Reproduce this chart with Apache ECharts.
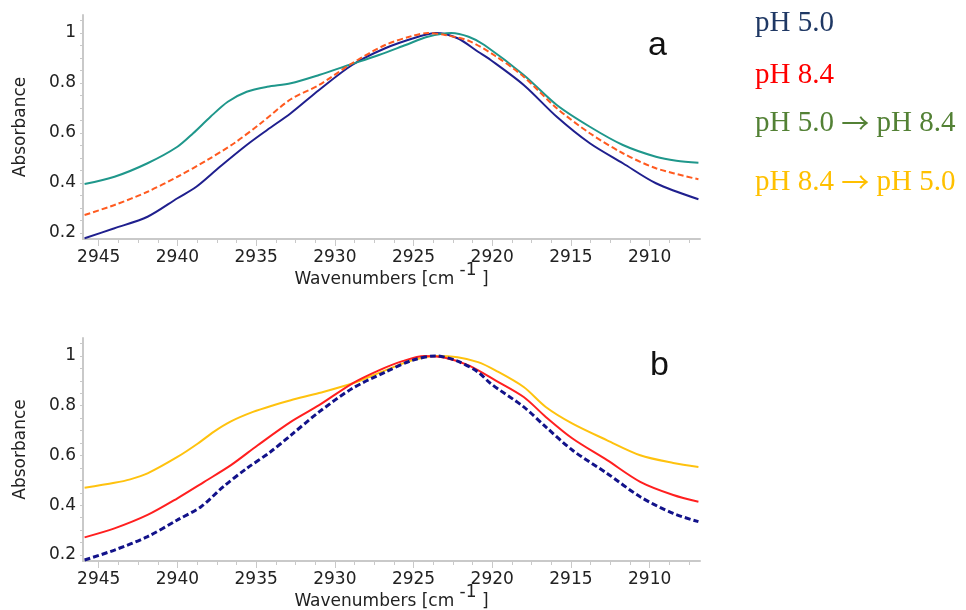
<!DOCTYPE html>
<html>
<head>
<meta charset="utf-8">
<script src="https://cdn.jsdelivr.net/npm/echarts@6/dist/echarts.min.js"></script>
<style>
html,body{margin:0;padding:0;background:#fff;}
#chart{width:966px;height:610px;}
</style>
</head>
<body>
<div id="chart"></div>
<script>
// ---- data (wavenumber [cm-1], normalized absorbance) ----
const xTickLabels = [2945, 2940, 2935, 2930, 2925, 2920, 2915, 2910];
const yTickLabels = [0.2, 0.4, 0.6, 0.8, 1];

// panel a
const aPH50 = [[2945.9,0.179],[2944.0,0.219],[2941.9,0.265],[2940.0,0.339],[2938.8,0.385],[2937.3,0.465],[2935.6,0.552],[2934.3,0.612],[2932.8,0.679],[2931.0,0.772],[2928.9,0.872],[2926.8,0.939],[2924.7,0.985],[2923.6,1.0],[2922.2,0.979],[2920.9,0.925],[2920.1,0.892],[2918.0,0.792],[2915.9,0.665],[2913.8,0.559],[2911.7,0.479],[2909.6,0.399],[2906.9,0.335]];
const aPH84 = [[2945.9,0.272],[2944.0,0.312],[2941.9,0.365],[2940.0,0.425],[2938.1,0.492],[2936.4,0.559],[2934.7,0.639],[2932.8,0.735],[2931.0,0.792],[2928.9,0.879],[2926.8,0.952],[2925.1,0.988],[2924.1,1.0],[2923.0,0.992],[2921.5,0.969],[2919.8,0.908],[2918.0,0.825],[2915.9,0.699],[2913.8,0.599],[2911.7,0.519],[2909.6,0.459],[2906.9,0.415]];
const aPH50to84 = [[2945.9,0.396],[2944.0,0.425],[2941.9,0.479],[2940.0,0.545],[2939.0,0.599],[2937.9,0.665],[2936.8,0.725],[2935.6,0.765],[2934.3,0.785],[2932.8,0.799],[2931.0,0.832],[2929.1,0.872],[2927.2,0.912],[2925.5,0.952],[2924.1,0.985],[2922.6,1.0],[2921.5,0.985],[2920.5,0.952],[2918.0,0.832],[2915.9,0.712],[2913.8,0.625],[2911.7,0.552],[2909.6,0.505],[2908.3,0.489],[2906.9,0.481]];

// panel b
const bPH50 = [[2945.9,0.180],[2944.0,0.220],[2941.9,0.274],[2940.0,0.341],[2938.5,0.394],[2937.1,0.474],[2935.6,0.548],[2934.1,0.614],[2932.8,0.681],[2931.0,0.775],[2928.9,0.869],[2926.8,0.935],[2925.1,0.982],[2923.6,1.0],[2922.2,0.979],[2920.9,0.935],[2920.1,0.889],[2918.0,0.795],[2916.6,0.715],[2914.9,0.621],[2912.7,0.528],[2910.6,0.434],[2908.5,0.367],[2906.9,0.334]];
const bPH84 = [[2945.9,0.271],[2944.0,0.307],[2941.9,0.361],[2940.0,0.428],[2938.3,0.494],[2936.6,0.561],[2934.9,0.641],[2932.8,0.735],[2931.0,0.802],[2928.9,0.889],[2927.2,0.942],[2925.7,0.979],[2924.3,1.0],[2923.0,0.993],[2921.5,0.962],[2919.8,0.902],[2918.0,0.835],[2916.6,0.755],[2914.9,0.668],[2912.7,0.581],[2910.6,0.494],[2908.5,0.441],[2906.9,0.414]];
const bPH84to50 = [[2945.9,0.470],[2944.0,0.490],[2943.0,0.504],[2941.9,0.528],[2940.0,0.594],[2938.7,0.648],[2937.7,0.695],[2936.6,0.737],[2935.2,0.775],[2933.9,0.802],[2932.8,0.822],[2931.0,0.851],[2928.9,0.889],[2926.8,0.942],[2925.1,0.982],[2923.6,1.0],[2922.2,0.995],[2920.9,0.975],[2919.8,0.942],[2918.0,0.875],[2916.6,0.795],[2914.9,0.728],[2912.7,0.661],[2910.6,0.601],[2908.5,0.570],[2906.9,0.554]];

const legendTexts = [['pH 5.0'], ['pH 8.4'], ['pH 5.0', 'pH 8.4'], ['pH 8.4', 'pH 5.0']];
const panelLabels = ['a', 'b'];

// ---- chart ----
const X_MIN = 2906.8, X_MAX = 2946.0, Y_MIN = 0.176, Y_MAX = 1.072;
const minorX = []; for (let v = 2907.5; v <= 2945.01; v += 1.25) minorX.push(+v.toFixed(2));
const minorY = []; for (let v = 0.2; v <= 1.051; v += 0.05) minorY.push(+v.toFixed(2));
const FONT = 'DejaVu Sans';
const axisGray = '#c9c9c9';

function xAxes(gi) {
  return [{
    type: 'value', gridIndex: gi, inverse: true, min: X_MIN, max: X_MAX, position: 'bottom',
    name: '{a|Wavenumbers [cm }{s|-1}{a| ]}', nameLocation: 'middle', nameGap: 23, nameMoveOverlap: false,
    nameTextStyle: { rich: {
      a: { fontFamily: FONT, fontSize: 17, color: '#222', padding: [9, 0, 0, 0] },
      s: { fontFamily: FONT, fontSize: 17, color: '#222', padding: [0, 0, 9, 0] }
    } },
    axisLine: { show: true, lineStyle: { color: axisGray, width: 2 } },
    axisTick: { show: true, customValues: minorX, length: 4, lineStyle: { color: axisGray } },
    axisLabel: { customValues: xTickLabels, fontFamily: FONT, fontSize: 17, color: '#222', margin: 10,
      formatter: v => String(Math.round(v)) },
    splitLine: { show: false }
  }, {
    type: 'value', gridIndex: gi, inverse: true, min: X_MIN, max: X_MAX, position: 'bottom',
    axisLine: { show: false },
    axisTick: { show: true, customValues: xTickLabels, length: 7, lineStyle: { color: axisGray } },
    axisLabel: { show: false }, splitLine: { show: false }
  }];
}
function yAxis(gi) {
  return {
    type: 'value', gridIndex: gi, min: Y_MIN, max: Y_MAX,
    name: 'Absorbance', nameLocation: 'middle', nameGap: 54, nameRotate: 90, nameMoveOverlap: false,
    nameTextStyle: { fontFamily: FONT, fontSize: 17, color: '#222' },
    axisLine: { show: true, lineStyle: { color: axisGray, width: 2 } },
    axisTick: { show: true, customValues: minorY, length: 3, lineStyle: { color: axisGray } },
    axisLabel: { customValues: yTickLabels, fontFamily: FONT, fontSize: 17, color: '#222', margin: 7,
      formatter: v => String(+v.toFixed(2)) },
    splitLine: { show: false }
  };
}
function line(name, data, xi, yi, color, width, dashed) {
  return {
    type: 'line', name, data, xAxisIndex: xi, yAxisIndex: yi,
    showSymbol: false, smooth: 0.3, clip: true,
    lineStyle: { color, width, type: dashed ? [6, 3] : 'solid' },
    emphasis: { disabled: true }, animation: false
  };
}
function legendItem(parts, top, color) {
  const rich = {
    t: { fontFamily: 'Liberation Serif', fontSize: 29, fill: color, color: color },
    r: { fontFamily: 'Noto Sans CJK SC', fontSize: 28, fill: color, color: color }
  };
  const text = parts.length === 1 ? '{t|' + parts[0] + '}' : '{t|' + parts[0] + ' }{r|\u2192}{t| ' + parts[1] + '}';
  return { type: 'text', left: 755, top, style: { text, rich, fill: color } };
}

const chart = echarts.init(document.getElementById('chart'), null, { renderer: 'canvas' });
chart.setOption({
  animation: false,
  backgroundColor: '#fff',
  grid: [
    { left: 83, top: 15, width: 617, height: 224, outerBoundsMode: 'none', containLabel: false },
    { left: 83, top: 338, width: 617, height: 223, outerBoundsMode: 'none', containLabel: false }
  ],
  xAxis: [...xAxes(0), ...xAxes(1)],
  yAxis: [yAxis(0), yAxis(1)],
  series: [
    line('pH 5.0', aPH50, 0, 0, '#1f1f8e', 2, false),
    line('pH 5.0 \u2192 pH 8.4', aPH50to84, 0, 0, '#1f978b', 2, false),
    line('pH 8.4', aPH84, 0, 0, '#ff5a1f', 2, true),
    line('pH 8.4 \u2192 pH 5.0', bPH84to50, 2, 1, '#ffc20e', 2, false),
    line('pH 8.4', bPH84, 2, 1, '#ff1f1f', 2, false),
    line('pH 5.0', bPH50, 2, 1, '#12128a', 3, true)
  ],
  graphic: [
    legendItem(legendTexts[0], 9, '#1f3864'),
    legendItem(legendTexts[1], 61, '#ff0000'),
    legendItem(legendTexts[2], 109, '#538135'),
    legendItem(legendTexts[3], 168, '#ffc000'),
    { type: 'text', left: 648, top: 29, style: { text: panelLabels[0], fill: '#111', font: '34px "Liberation Sans"' } },
    { type: 'text', left: 650, top: 349, style: { text: panelLabels[1], fill: '#111', font: '34px "Liberation Sans"' } }
  ]
});
</script>
</body>
</html>
